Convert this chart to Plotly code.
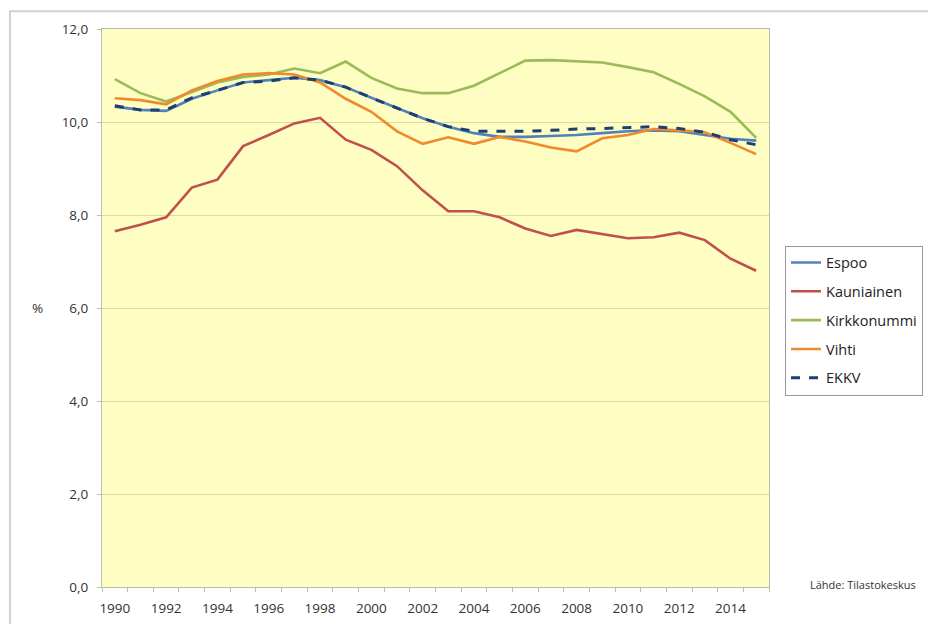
import plotly.graph_objects as go

years = list(range(1990, 2016))

espoo = [10.33, 10.26, 10.24, 10.50, 10.68, 10.85, 10.90, 10.95, 10.90, 10.75,
         10.52, 10.30, 10.08, 9.90, 9.76, 9.68, 9.68, 9.70, 9.72, 9.76,
         9.80, 9.82, 9.80, 9.72, 9.64, 9.60]
kauniainen = [7.65, 7.79, 7.95, 8.59, 8.76, 9.48, 9.72, 9.97, 10.09, 9.62,
              9.40, 9.05, 8.53, 8.08, 8.08, 7.95, 7.71, 7.55, 7.68, 7.59,
              7.50, 7.52, 7.62, 7.46, 7.06, 6.80]
kirkkonummi = [10.92, 10.62, 10.44, 10.65, 10.85, 10.97, 11.02, 11.15, 11.05, 11.30,
               10.95, 10.72, 10.62, 10.62, 10.78, 11.05, 11.32, 11.33, 11.30, 11.28,
               11.18, 11.07, 10.82, 10.55, 10.22, 9.66]
vihti = [10.51, 10.47, 10.38, 10.68, 10.88, 11.02, 11.05, 11.02, 10.85, 10.50,
         10.22, 9.80, 9.53, 9.67, 9.53, 9.68, 9.58, 9.45, 9.37, 9.65,
         9.72, 9.85, 9.82, 9.78, 9.55, 9.31]
ekkv = [10.35, 10.26, 10.26, 10.52, 10.68, 10.85, 10.88, 10.95, 10.90, 10.75,
        10.52, 10.30, 10.08, 9.90, 9.80, 9.80, 9.80, 9.82, 9.85, 9.86,
        9.88, 9.90, 9.86, 9.78, 9.62, 9.51]

series = [
    ("Espoo", espoo, "#4F81BD", "solid"),
    ("Kauniainen", kauniainen, "#C0504D", "solid"),
    ("Kirkkonummi", kirkkonummi, "#9BBB59", "solid"),
    ("Vihti", vihti, "#F08A2C", "solid"),
    ("EKKV", ekkv, "#1F3F73", "dash"),
]

tick_years = list(range(1990, 2015, 2))
y_ticks = [0, 2, 4, 6, 8, 10, 12]

font_family = "'Open Sans', Lato, sans-serif"

fig = go.Figure()
for name, vals, color, dash in series:
    fig.add_trace(go.Scatter(
        x=years, y=vals, mode="lines", name=name, legendgroup=name,
        line=dict(color=color, width=3 if dash == "dash" else 2.6, dash=dash),
    ))

# page body has an 8px margin, so margins are compensated for that offset
fig.update_layout(
    width=936, height=624,
    margin=dict(l=94, r=175, t=19, b=45),
    paper_bgcolor="white",
    plot_bgcolor="#FEFDC2",
    separators=", ",
    font=dict(family=font_family, size=13, color="#333333"),
    showlegend=True,
    legend=dict(
        x=1.024, y=0.612, xanchor="left", yanchor="top",
        bgcolor="white", bordercolor="#9A9A9A", borderwidth=1,
        font=dict(size=14.5, color="#222222"),
        tracegroupgap=7, itemwidth=30,
    ),
    xaxis=dict(
        range=[1989.5, 2015.5],
        tickmode="array", tickvals=tick_years, ticktext=[str(y) for y in tick_years],
        showgrid=False, zeroline=False,
        showline=True, linecolor="#BDBDA8", linewidth=1, mirror=True,
        ticks="", ticklabelstandoff=9,
        minor=dict(ticks="outside", tickmode="linear", tick0=1989.5, dtick=1,
                   ticklen=4, tickcolor="#BDBDA8", showgrid=False),
        tickfont=dict(size=13.5, color="#333333"),
    ),
    yaxis=dict(
        range=[0, 12],
        tickmode="array", tickvals=y_ticks,
        tickformat=".1f",
        showgrid=True, gridcolor="#DCD9A6", gridwidth=1,
        zeroline=False,
        showline=True, linecolor="#BDBDA8", linewidth=1, mirror=True,
        ticks="outside", ticklen=4, tickcolor="#BDBDA8",
        ticklabelstandoff=6,
        tickfont=dict(size=13.5, color="#333333"),
    ),
    annotations=[
        dict(text="%", xref="paper", yref="paper", x=-0.096, y=0.5,
             xanchor="center", showarrow=False,
             font=dict(size=13.5, color="#333333")),
        dict(text="Lähde: Tilastokeskus", xref="paper", yref="paper",
             x=1.141, y=0.004, xanchor="center", yanchor="middle",
             showarrow=False, font=dict(size=11, color="#333333")),
    ],
    shapes=[
        dict(type="rect", xref="paper", yref="paper",
             x0=-0.138, x1=1.243, y0=-0.2, y1=1.032,
             line=dict(color="#D0D0D0", width=2), layer="below"),
    ],
)

fig.write_html("out.html")
